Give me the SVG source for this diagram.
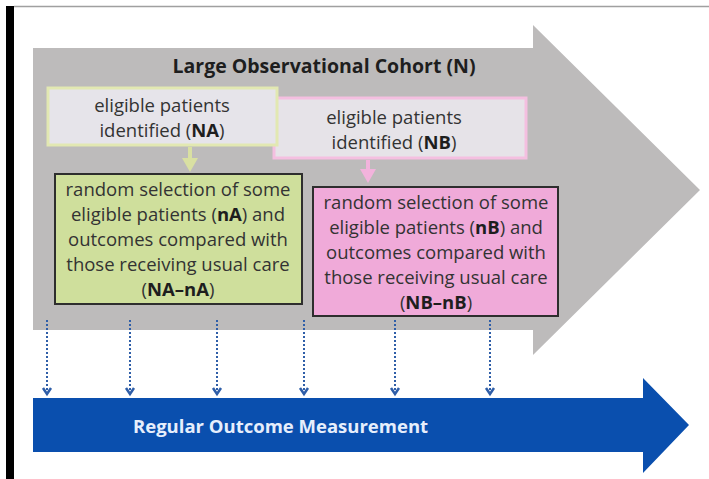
<svg xmlns="http://www.w3.org/2000/svg" width="709" height="479" viewBox="0 0 709 479">
<defs>
<style>
.t{font-family:"Open Sans","Noto Sans","DejaVu Sans",sans-serif;font-size:18.5px;fill:#333333;text-anchor:middle}
.b{font-weight:bold;fill:#1e1e1e}
.title{font-family:"Open Sans","Noto Sans","DejaVu Sans",sans-serif;font-size:19.5px;font-weight:bold;fill:#1e1e1e;text-anchor:middle}
.blue{font-family:"Open Sans","Noto Sans","DejaVu Sans",sans-serif;font-size:18.5px;font-weight:bold;fill:#e6eefc}
.dot{stroke:#2f5ea8;stroke-width:2;stroke-dasharray:2 2;fill:none}
.chev{stroke:#2f5ea8;stroke-width:2.5;fill:none}
</style>
</defs>
<rect width="709" height="479" fill="#ffffff"/>
<line x1="14" y1="6.5" x2="709" y2="6.5" stroke="#a0a0a0" stroke-width="1.5"/>
<rect x="6" y="6" width="8" height="473" fill="#000000"/>

<g id="cohort-arrow">
<polygon points="33,48 533,48 533,25 700,190 533,355 533,330 33,330" fill="#bdbbbb"/>
<text class="title" x="324" y="73">Large Observational Cohort (N)</text>
</g>

<g id="node-NB">
<rect x="274" y="98" width="252" height="60" fill="#e6e3e8" stroke="#f4bfe0" stroke-width="3"/>
<text class="t" x="394" y="124">eligible patients</text>
<text class="t" x="394" y="149">identified (<tspan class="b">NB</tspan>)</text>
</g>

<g id="node-NA">
<rect x="48" y="88" width="229" height="57" fill="#e6e4ea" stroke="#e2e8b2" stroke-width="3"/>
<text class="t" x="162" y="112">eligible patients</text>
<text class="t" x="162" y="137">identified (<tspan class="b">NA</tspan>)</text>
</g>

<g id="node-nA">
<rect x="55" y="174" width="247" height="130" fill="#cfdf9c" stroke="#2e2e2e" stroke-width="2"/>
<text class="t" x="178" y="196">random selection of some</text>
<text class="t" x="178" y="221">eligible patients (<tspan class="b">nA</tspan>) and</text>
<text class="t" x="178" y="246">outcomes compared with</text>
<text class="t" x="178" y="271">those receiving usual care</text>
<text class="t" x="178" y="296">(<tspan class="b">NA–nA</tspan>)</text>
</g>

<g id="node-nB">
<rect x="313" y="187" width="245" height="129" fill="#f0aad9" stroke="#2e2e2e" stroke-width="2"/>
<text class="t" x="436" y="209">random selection of some</text>
<text class="t" x="436" y="234">eligible patients (<tspan class="b">nB</tspan>) and</text>
<text class="t" x="436" y="259">outcomes compared with</text>
<text class="t" x="436" y="284">those receiving usual care</text>
<text class="t" x="436" y="309">(<tspan class="b">NB–nB</tspan>)</text>
</g>

<g id="measurement-arrow">
<polygon points="33,398 643,398 643,378 689,425 643,473 643,452 33,452" fill="#0a4fae"/>
<text class="blue" x="133" y="433">Regular Outcome Measurement</text>
</g>

<g id="connectors">
<line x1="190" y1="147" x2="190" y2="160" stroke="#d9e0a2" stroke-width="4"/>
<polygon points="182,158 198,158 190,172" fill="#d9e0a2"/>
<line x1="368" y1="160" x2="368" y2="171" stroke="#f2b3dc" stroke-width="4"/>
<polygon points="360,169 376,169 368,183" fill="#f2b3dc"/>

<line class="dot" x1="47" y1="320" x2="47" y2="392"/>
<polyline class="chev" points="43,388 47,394 51,388"/>
<line class="dot" x1="130" y1="320" x2="130" y2="392"/>
<polyline class="chev" points="126,388 130,394 134,388"/>
<line class="dot" x1="217" y1="320" x2="217" y2="392"/>
<polyline class="chev" points="213,388 217,394 221,388"/>
<line class="dot" x1="304" y1="320" x2="304" y2="392"/>
<polyline class="chev" points="300,388 304,394 308,388"/>
<line class="dot" x1="395" y1="320" x2="395" y2="392"/>
<polyline class="chev" points="391,388 395,394 399,388"/>
<line class="dot" x1="490" y1="320" x2="490" y2="392"/>
<polyline class="chev" points="486,388 490,394 494,388"/>
</g>
</svg>
